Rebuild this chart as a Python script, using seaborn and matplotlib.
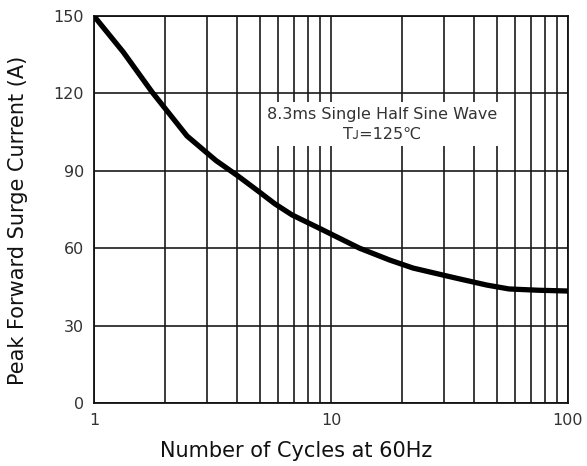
import matplotlib
matplotlib.use("Agg")
import matplotlib.pyplot as plt
import seaborn as sns
import pandas as pd
from matplotlib.ticker import FixedLocator, NullFormatter, LogLocator

cycles = [1.0, 1.33, 1.76, 2.47, 3.27, 4.05, 4.92, 5.80, 6.85, 8.9, 13.2, 17.7, 22.2, 33.7, 45.5, 56.4, 75.0, 100.0]
current = [150.0, 136.0, 120.5, 103.5, 94.0, 88.0, 82.2, 77.2, 72.9, 67.8, 60.0, 55.4, 52.3, 48.4, 45.7, 44.2, 43.7, 43.4]
y_ticks = [0, 30, 60, 90, 120, 150]
x_ticks = [1, 10, 100]
x_tick_labels = ["1", "10", "100"]
note_line1 = "8.3ms Single Half Sine Wave"
note_line2 = "T\u1D0A=125\u2103"

sns.set_theme(style="white")
plt.rcParams['font.family'] = ['DejaVu Sans', 'Noto Sans']

fig = plt.figure(figsize=(5.87, 4.66), dpi=100)
ax = fig.add_axes([0.160, 0.1352, 0.8076, 0.8305])

df = pd.DataFrame({"cycles": cycles, "current": current})
sns.lineplot(data=df, x="cycles", y="current", ax=ax, color="black", lw=3.8,
             solid_capstyle="round", solid_joinstyle="round", zorder=5)

ax.set_xscale("log")
ax.set_xlim(1, 100)
ax.set_ylim(0, 150)
ax.xaxis.set_major_locator(FixedLocator(x_ticks))
ax.set_xticks(x_ticks)
ax.set_xticklabels(x_tick_labels)
ax.xaxis.set_minor_locator(LogLocator(base=10, subs=[2, 3, 4, 5, 6, 7, 8, 9]))
ax.xaxis.set_minor_formatter(NullFormatter())
ax.set_yticks(y_ticks)

ax.grid(True, which="both", axis="x", color="#1a1a1a", lw=1.2)
ax.grid(True, which="major", axis="y", color="#1a1a1a", lw=1.2)
ax.set_axisbelow(True)
for s in ax.spines.values():
    s.set_color("#111111")
    s.set_linewidth(1.3)

ax.tick_params(axis="both", which="both", length=0, labelsize=11.5, colors="#333333", pad=7)
ax.set_xlabel("Number of Cycles at 60Hz", fontsize=15, color="#111111")
ax.set_ylabel("Peak Forward Surge Current (A)", fontsize=15, color="#111111")
ax.xaxis.set_label_coords(0.426, -0.097)
ax.yaxis.set_label_coords(-0.140, 0.472)

ax.text(16.5, 108.0, note_line1 + "\n" + note_line2, ha="center", va="center",
        fontsize=11.5, color="#333333", linespacing=1.35, zorder=4,
        bbox=dict(facecolor="white", edgecolor="none", pad=3.5))

fig.savefig("out.png", dpi=100)
